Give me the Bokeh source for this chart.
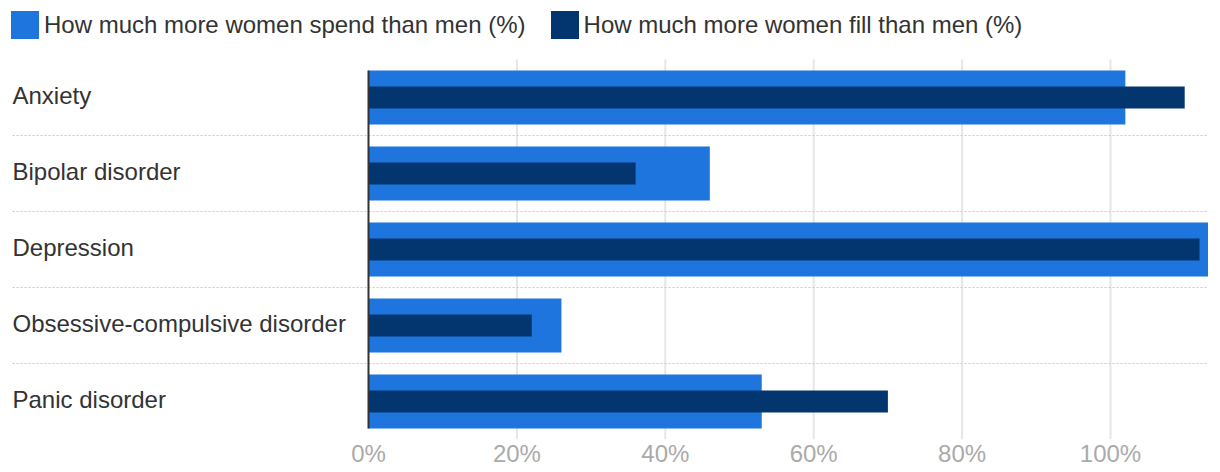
from bokeh.plotting import figure
from bokeh.models import (Range1d, FixedTicker, PrintfTickFormatter,
                          Legend, LegendItem, ColumnDataSource)
from bokeh.core.properties import value
from bokeh.embed import file_html
from bokeh.resources import INLINE

categories = ["Anxiety", "Bipolar disorder", "Depression",
              "Obsessive-compulsive disorder", "Panic disorder"]
spend = [102, 46, 114, 26, 53]
fill = [110, 36, 112, 22, 70]
tick_values = [0, 20, 40, 60, 80, 100]
series_names = ["How much more women spend than men (%)",
                "How much more women fill than men (%)"]

FONT = "Liberation Sans"
C_SPEND = "#1f75de"
C_FILL = "#03366f"

n = len(categories)
ypos = [i + 0.5 for i in range(n)]
src = ColumnDataSource(dict(y=ypos, spend=spend, fill=fill, cat=categories))

# layout (pixels)
FRAME_W = 1208
ROW_PX = 76
TOP_PX = 59          # space above first row (legend area, inside frame)
ZERO_PX = 368        # pixel position of 0%
PX_PER_UNIT = 7.42
x_start = -ZERO_PX / PX_PER_UNIT
x_end = (FRAME_W - ZERO_PX) / PX_PER_UNIT
y_top = -TOP_PX / ROW_PX
frame_h = TOP_PX + n * ROW_PX
AXIS_PX = 32

p = figure(width=FRAME_W, height=frame_h + AXIS_PX, output_backend="svg",
           toolbar_location=None,
           x_range=Range1d(x_start, x_end),
           y_range=Range1d(n, y_top),
           min_border_left=0, min_border_right=0, min_border_top=0,
           min_border_bottom=AXIS_PX)
p.outline_line_color = None
p.background_fill_color = "white"
p.border_fill_color = "white"
p.xgrid.visible = False
p.ygrid.visible = False

label_x = x_start + 12 / PX_PER_UNIT

# vertical gridlines (at tick positions, rows area only)
gx = tick_values[1:]
p.segment(x0=gx, x1=gx, y0=[0] * len(gx), y1=[n] * len(gx),
          line_color="#e6e6e6", line_width=2)

# dotted row separators
sep = list(range(1, n))
p.segment(x0=[label_x] * len(sep), x1=[x_end] * len(sep), y0=sep, y1=sep,
          line_color="#c8c8c8", line_width=1, line_dash="2 2")

r1 = p.hbar(y="y", right="spend", left=0, height=0.71, source=src,
            fill_color=C_SPEND, line_color=None)
r2 = p.hbar(y="y", right="fill", left=0, height=0.29, source=src,
            fill_color=C_FILL, line_color=None)

# zero axis line
p.segment(x0=[0], x1=[0], y0=[ypos[0] - 0.355], y1=[ypos[-1] + 0.355],
          line_color="#333333", line_width=2)

# category labels
p.text(x=label_x, y="y", text="cat", source=src, y_offset=-2,
       text_font=value(FONT), text_font_size="24px", text_color="#333333",
       text_align="left", text_baseline="middle")

# axes
p.yaxis.visible = False
p.xaxis.ticker = FixedTicker(ticks=tick_values)
p.xaxis.formatter = PrintfTickFormatter(format="%d%%")
p.xaxis.axis_line_color = None
p.xaxis.major_tick_line_color = None
p.xaxis.minor_tick_line_color = None
p.xaxis.major_tick_out = 0
p.xaxis.major_tick_in = 0
p.xaxis.major_label_text_font = FONT
p.xaxis.major_label_text_font_size = "24px"
p.xaxis.major_label_text_color = "#aaaaaa"
p.xaxis.major_label_standoff = 0

legend = Legend(items=[LegendItem(label=series_names[0], renderers=[r1]),
                       LegendItem(label=series_names[1], renderers=[r2])],
                orientation="horizontal", location="top_left",
                glyph_width=35, glyph_height=35, label_height=35,
                label_standoff=2, spacing=21, padding=0, margin=7,
                border_line_color=None, background_fill_alpha=0,
                label_text_font=FONT, label_text_font_size="24px",
                label_text_color="#333333", label_text_baseline="middle")
p.add_layout(legend)

open("out.html", "w").write(file_html(p, INLINE))
